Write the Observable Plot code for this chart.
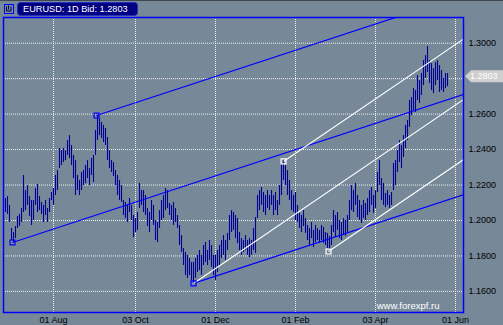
<!DOCTYPE html>
<html><head><meta charset="utf-8">
<script src="https://cdn.jsdelivr.net/npm/d3@7"></script>
<script src="https://cdn.jsdelivr.net/npm/@observablehq/plot@0.6"></script>
<style>
html,body{margin:0;padding:0;background:#778899;}
#chart{position:relative;width:503px;height:325px;overflow:hidden;}
</style></head>
<body><div id="chart"></div>
<script>
const symbol = "EURUSD";
const lastBid = 1.2803;
const watermark = "www.forexpf.ru";
const priceTicks = [1.16, 1.18, 1.20, 1.22, 1.24, 1.26, 1.28, 1.30];
const priceLabels = [1.16, 1.18, 1.20, 1.22, 1.24, 1.26, 1.30];
const dateLabels = ["01 Aug", "03 Oct", "01 Dec", "01 Feb", "03 Apr", "01 Jun"];
const dateBarIndex = [24, 65, 105, 145, 185, 225];

const highs = [
1.2124,1.2135,1.2085,1.1955,1.1932,1.1966,1.2023,1.2034,1.2068,1.2254,
1.2169,1.2197,1.2135,1.2113,1.2113,1.2180,1.2203,1.2135,1.2102,1.2085,
1.2113,1.2068,1.2124,1.2158,1.2180,1.2254,1.2282,1.2406,1.2395,1.2406,
1.2395,1.2451,1.2479,1.2423,1.2367,1.2338,1.2254,1.2226,1.2271,1.2282,
1.2310,1.2338,1.2293,1.2350,1.2367,1.2508,1.2592,1.2575,1.2553,1.2536,
1.2519,1.2468,1.2395,1.2338,1.2327,1.2282,1.2254,1.2226,1.2197,1.2113,
1.2102,1.2085,1.2124,1.2085,1.2028,1.2011,1.2045,1.2209,1.2169,1.2169,
1.2141,1.2068,1.2045,1.2113,1.2085,1.2000,1.1989,1.2056,1.2113,1.2141,
1.2180,1.2169,1.2096,1.2085,1.2102,1.2068,1.2028,1.1972,1.1915,1.1842,
1.1820,1.1803,1.1786,1.1763,1.1763,1.1786,1.1803,1.1831,1.1803,1.1859,
1.1876,1.1831,1.1887,1.1859,1.1803,1.1803,1.1831,1.1859,1.1887,1.1915,
1.1887,1.1927,1.2028,1.2056,1.2045,1.2028,1.2011,1.1932,1.1898,1.1887,
1.1915,1.1887,1.1898,1.1887,1.1955,1.2017,1.2141,1.2169,1.2186,1.2158,
1.2141,1.2169,1.2141,1.2169,1.2141,1.2158,1.2113,1.2197,1.2321,1.2338,
1.2310,1.2282,1.2226,1.2169,1.2141,1.2158,1.2085,1.2040,1.2028,1.2056,
1.2011,1.1972,1.1955,1.1989,1.1944,1.1972,1.1955,1.1944,1.1972,1.1961,
1.1932,1.1927,1.1910,1.1972,1.2056,1.2028,1.2045,1.2000,1.1989,1.2011,
1.2000,1.2028,1.2113,1.2197,1.2169,1.2209,1.2141,1.2113,1.2085,1.2113,
1.2096,1.2124,1.2169,1.2186,1.2141,1.2169,1.2271,1.2338,1.2237,1.2209,
1.2152,1.2169,1.2141,1.2158,1.2321,1.2338,1.2395,1.2451,1.2423,1.2479,
1.2536,1.2564,1.2677,1.2694,1.2744,1.2733,1.2818,1.2790,1.2829,1.2902,
1.2930,1.2981,1.2902,1.2885,1.2857,1.2890,1.2902,1.2874,1.2846,1.2801,1.2829,1.2829
];
const lows = [
1.2045,1.2034,1.1989,1.1887,1.1876,1.1898,1.1955,1.1966,1.1989,1.2045,
1.2056,1.2085,1.2023,1.1972,1.2000,1.2085,1.2045,1.2056,1.2034,1.1989,
1.2028,1.1989,1.2045,1.2113,1.2085,1.2141,1.2169,1.2293,1.2310,1.2327,
1.2338,1.2367,1.2350,1.2310,1.2237,1.2141,1.2169,1.2141,1.2169,1.2197,
1.2209,1.2237,1.2197,1.2254,1.2214,1.2367,1.2451,1.2479,1.2462,1.2440,
1.2423,1.2338,1.2293,1.2271,1.2248,1.2197,1.2141,1.2113,1.2102,1.2028,
1.2011,1.1989,1.2045,1.2000,1.1904,1.1932,1.1944,1.2068,1.2085,1.2045,
1.2028,1.1966,1.1932,1.2000,1.1972,1.1887,1.1876,1.1955,1.2000,1.2011,
1.2056,1.2068,1.2028,1.2000,1.1972,1.1989,1.1955,1.1859,1.1820,1.1746,
1.1690,1.1673,1.1690,1.1662,1.1645,1.1673,1.1707,1.1718,1.1690,1.1746,
1.1763,1.1746,1.1774,1.1735,1.1690,1.1662,1.1707,1.1746,1.1786,1.1803,
1.1774,1.1831,1.1887,1.1932,1.1944,1.1898,1.1870,1.1831,1.1803,1.1820,
1.1831,1.1803,1.1791,1.1803,1.1831,1.1814,1.2011,1.2056,1.2085,1.2045,
1.2028,1.2068,1.2056,1.2085,1.2028,1.2056,1.2028,1.2085,1.2141,1.2226,
1.2197,1.2141,1.2113,1.2056,1.2045,1.2000,1.1989,1.1955,1.1932,1.1966,
1.1927,1.1887,1.1859,1.1898,1.1848,1.1876,1.1887,1.1870,1.1887,1.1870,
1.1859,1.1842,1.1825,1.1859,1.1932,1.1904,1.1944,1.1898,1.1887,1.1915,
1.1910,1.1932,1.2000,1.2056,1.2045,1.2085,1.2017,1.2000,1.1983,1.2011,
1.2000,1.2028,1.2045,1.2085,1.2040,1.2068,1.2158,1.2197,1.2113,1.2085,
1.2073,1.2085,1.2068,1.2085,1.2169,1.2197,1.2271,1.2327,1.2293,1.2355,
1.2406,1.2451,1.2525,1.2592,1.2620,1.2609,1.2677,1.2660,1.2705,1.2761,
1.2801,1.2835,1.2773,1.2733,1.2716,1.2761,1.2790,1.2722,1.2733,1.2722,1.2744,1.2755
];

// trend channel anchors: bar index and price at start and end
const blueStartBar = [3.5, 45.5, 94];
const blueStartPrice = [1.1876, 1.2592, 1.1645];
const blueEndBar = [229, 229, 229];
const blueEndPrice = [1.2711, 1.3271, 1.2145];
const whiteStartBar = [94, 139, 161.5];
const whiteStartPrice = [1.1645, 1.2333, 1.1825];
const whiteEndBar = [229, 229, 229];
const whiteEndPrice = [1.2682, 1.3024, 1.2343];

const bars = highs.map((h, i) => ({i, high: h, low: lows[i]}));
const blueLines = blueStartBar.map((b, k) => ({x1: b, y1: blueStartPrice[k], x2: blueEndBar[k], y2: blueEndPrice[k]}));
const whiteLines = whiteStartBar.map((b, k) => ({x1: b, y1: whiteStartPrice[k], x2: whiteEndBar[k], y2: whiteEndPrice[k]}));
const blueAnchors = blueStartBar.map((b, k) => ({x: b, y: blueStartPrice[k]}));
const whiteAnchors = whiteStartBar.slice(1).map((b, k) => ({x: b, y: whiteStartPrice[k + 1]}));

const font = "'Liberation Sans', Arial, sans-serif";
const chart = Plot.plot({
  width: 503, height: 325,
  marginLeft: 3, marginRight: 40, marginTop: 17, marginBottom: 13,
  x: {domain: [-1, 229]},
  y: {domain: [1.1481, 1.3145]},
  style: {background: "#778899", fontFamily: font, fontSize: "9px", color: "#000", overflow: "visible"},
  marks: [
    Plot.gridX(dateBarIndex, {stroke: "#f0f0f0", strokeOpacity: 1, strokeDasharray: "1,1"}),
    Plot.gridY(priceTicks, {stroke: "#f0f0f0", strokeOpacity: 1, strokeDasharray: "1,1"}),
    Plot.ruleX(bars, {x: "i", y1: "low", y2: "high", stroke: "#00009c", strokeWidth: 1.1}),
    Plot.link(blueLines, {x1: "x1", y1: "y1", x2: "x2", y2: "y2", stroke: "#0000ff", strokeWidth: 1.2, clip: true}),
    Plot.link(whiteLines, {x1: "x1", y1: "y1", x2: "x2", y2: "y2", stroke: "#ffffff", strokeWidth: 1.1, clip: true}),
    Plot.dot(blueAnchors, {x: "x", y: "y", symbol: "square", r: 2.8, stroke: "#0000ff", fill: "none", strokeWidth: 1.2}),
    Plot.dot(whiteAnchors, {x: "x", y: "y", symbol: "square", r: 2.8, stroke: "#ffffff", fill: "none", strokeWidth: 1.2}),
    Plot.axisY({ticks: priceLabels, anchor: "right", tickSize: 0, tickPadding: 5, tickFormat: d => d.toFixed(4), fill: "#000", fontSize: 9}),
    Plot.axisX({ticks: dateBarIndex, anchor: "bottom", tickSize: 0, tickPadding: 4, tickFormat: d => dateLabels[dateBarIndex.indexOf(d)], fill: "#000", fontSize: 9}),
    Plot.text([watermark], {frameAnchor: "bottom-right", dx: -24, dy: -4, text: d => d, fill: "#ffffff", fontSize: 9.5, textAnchor: "end"}),
    Plot.frame({stroke: "#0000ff", strokeWidth: 1.5})
  ]
});
document.getElementById("chart").appendChild(chart);

const svg = d3.select(chart);
const yS = chart.scale("y");
// top border
svg.append("rect").attr("x", 0).attr("y", 0).attr("width", 503).attr("height", 1).attr("fill", "#404850");
// icon
svg.append("rect").attr("x", 4.5).attr("y", 4.5).attr("width", 9).attr("height", 9).attr("fill", "#778899").attr("stroke", "#0000ff");
svg.append("path").attr("d", "M6.5,6.5 V11 H11 V6.5 M8.5,5.5 V9.5").attr("fill", "none").attr("stroke", "#000040").attr("stroke-width", 1);
// title box
svg.append("rect").attr("x", 17.5).attr("y", 2.5).attr("width", 120).attr("height", 13).attr("rx", 3)
  .attr("fill", "#000080").attr("stroke", "#2030c0");
svg.append("text").attr("x", 23).attr("y", 12).attr("fill", "#ffffff").attr("font-size", 9.2)
  .attr("text-anchor", "start").attr("font-family", font).text(`${symbol}: 1D Bid: ${lastBid.toFixed(4)}`);
// last price tag
const ty = yS.apply(lastBid) - 1.5;
svg.append("polygon").attr("points", `465,${ty} 471,${ty - 6} 503,${ty - 6} 503,${ty + 6} 471,${ty + 6}`).attr("fill", "#cfcfcf");
svg.append("text").attr("x", 470).attr("y", ty).attr("dy", "0.35em").attr("fill", "#ffffff").attr("font-size", 9)
  .attr("text-anchor", "start").attr("font-family", font).text(lastBid.toFixed(4));
</script></body></html>
